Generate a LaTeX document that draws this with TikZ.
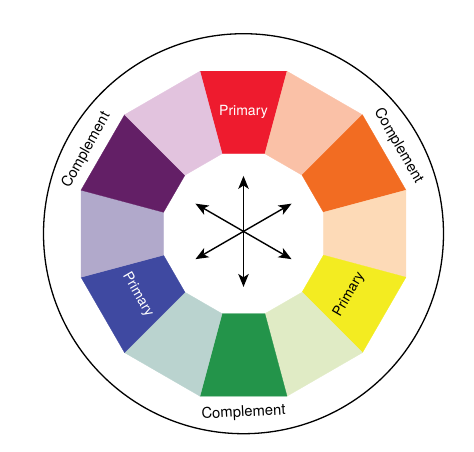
\documentclass[tikz,border=0pt]{standalone}
\usepackage{fontspec}
\setmainfont{TeX Gyre Heros}
\usepackage{tikz}
\usetikzlibrary{arrows.meta,calc}
\definecolor{wheelRed}{HTML}{EE1B2E}
\definecolor{wheelSalmon}{HTML}{FAC1A7}
\definecolor{wheelOrange}{HTML}{F26C22}
\definecolor{wheelPeach}{HTML}{FDDAB7}
\definecolor{wheelYellow}{HTML}{F3EC21}
\definecolor{wheelLime}{HTML}{E0EBC5}
\definecolor{wheelGreen}{HTML}{23944A}
\definecolor{wheelSage}{HTML}{BAD3CF}
\definecolor{wheelBlue}{HTML}{3F49A1}
\definecolor{wheelLavender}{HTML}{B1A9CB}
\definecolor{wheelPurple}{HTML}{631F66}
\definecolor{wheelPink}{HTML}{E2C3DE}
\tikzstyle{wheeltext} = [font=\fontsize{14}{16}\selectfont, inner sep=0pt]
\tikzstyle{ringtext} = [font=\fontsize{14.8}{17}\selectfont, inner sep=0pt]
\tikzstyle{line} = [draw, line width=1.4pt, {Stealth[length=13pt,width=10.5pt,inset=3.5pt]}-{Stealth[length=13pt,width=10.5pt,inset=3.5pt]}]

\begin{document}
\begin{tikzpicture}[x=1pt, y=1pt]
    \useasboundingbox (-243.5,-217.3) rectangle (230.5,233.7);
    \def\outR{168.2}
    \def\inR{82.8}
    % segments of the wheel
    \foreach \ang/\col in {90/wheelRed, 60/wheelSalmon, 30/wheelOrange, 0/wheelPeach,
        -30/wheelYellow, -60/wheelLime, -90/wheelGreen, -120/wheelSage,
        -150/wheelBlue, 180/wheelLavender, 150/wheelPurple, 120/wheelPink}
      \fill [\col, draw=\col, line width=0.3pt] (\ang-15:\outR) -- (\ang+15:\outR)
        -- (\ang+15:\inR) -- (\ang-15:\inR) -- cycle;
    \draw [line width=1.3pt] (0,0) circle (200);
    \node [wheeltext, text=white] (redPrimary) at (90:122) {Primary};
    \node [wheeltext, text=white, rotate=-60] (bluePrimary) at (-150:122) {Primary};
    \node [wheeltext, rotate=60] (yellowPrimary) at (-30:122) {Primary};
    \node [ringtext, rotate=61] (purpleComplement) at (152:178) {Complement};
    \node [ringtext, rotate=-60] (orangeComplement) at (29.5:178) {Complement};
    \node [ringtext, rotate=3] (greenComplement) at (-90:179) {Complement};
    % arrows
    \coordinate (hub) at (0,2.3);
    \foreach \ang in {30,90,150,210,270,330}
      \coordinate (tip\ang) at ($(hub)+(\ang:55.5)$);
    \path [line] (tip90) -- (tip270);
    \path [line] (tip30) -- (tip210);
    \path [line] (tip150) -- (tip330);
  \end{tikzpicture}
\end{document}
